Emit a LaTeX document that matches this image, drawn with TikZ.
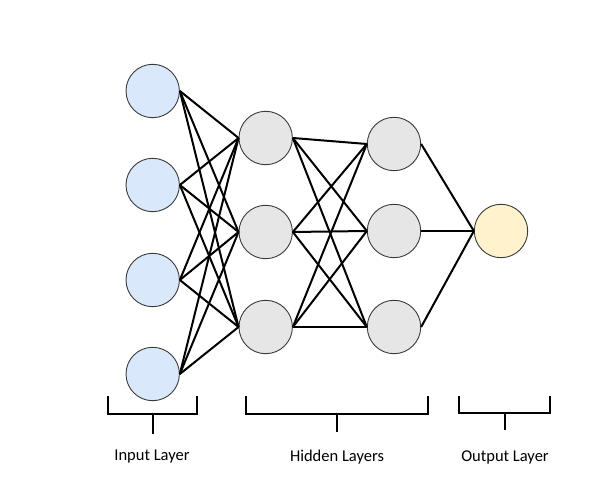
\documentclass[tikz,border=0pt]{standalone}
\usepackage{fontspec}
\setmainfont{Carlito}
\definecolor{inblue}{HTML}{DAE8FC}
\definecolor{hidgray}{HTML}{E6E6E6}
\definecolor{outyel}{HTML}{FFF2CC}
\definecolor{rim}{HTML}{3A3A3A}
\begin{document}
\begin{tikzpicture}[x=1pt,y=-1pt,
  neuron/.style={circle,draw=rim,line width=0.9pt,minimum size=53.4pt,inner sep=0pt},
  innode/.style={neuron,fill=inblue},
  hidnode/.style={neuron,fill=hidgray},
  outnode/.style={neuron,fill=outyel},
  edge/.style={line width=2pt,black},
  brace/.style={line width=1.3pt,black},
  lbl/.style={font=\fontsize{16.5}{20}\selectfont}]
\useasboundingbox (0,0) rectangle (598,489);
\node[innode] (i1) at (152.7,91) {};
\node[innode] (i2) at (152.7,185) {};
\node[innode] (i3) at (152.7,280) {};
\node[innode] (i4) at (152.7,374) {};
\node[hidnode] (a1) at (265.7,138) {};
\node[hidnode] (a2) at (265.7,232) {};
\node[hidnode] (a3) at (265.7,327) {};
\node[hidnode] (b1) at (394,144) {};
\node[hidnode] (b2) at (394,231) {};
\node[hidnode] (b3) at (394,327) {};
\node[outnode] (o) at (501,231) {};
\foreach \i in {1,2,3,4}{\foreach \j in {1,2,3}{\draw[edge] (i\i.east) -- (a\j.west);}}
\foreach \i in {1,2,3}{\foreach \j in {1,2,3}{\draw[edge] (a\i.east) -- (b\j.west);}}
\foreach \i in {1,2,3}{\draw[edge] (b\i.east) -- (o.west);}
% brackets
\coordinate (ba1) at (108,396); \coordinate (ba2) at (108,414);
\coordinate (ba3) at (197,414); \coordinate (ba4) at (197,396);
\coordinate (bas) at (153,414); \coordinate (bae) at (153,434);
\draw[brace] (ba1) -- (ba2) -- (ba3) -- (ba4);
\draw[brace] (bas) -- (bae);
\coordinate (bh1) at (246,396); \coordinate (bh2) at (246,414);
\coordinate (bh3) at (428,414); \coordinate (bh4) at (428,396);
\coordinate (bhs) at (337,414); \coordinate (bhe) at (337,432);
\draw[brace] (bh1) -- (bh2) -- (bh3) -- (bh4);
\draw[brace] (bhs) -- (bhe);
\coordinate (bo1) at (459,396); \coordinate (bo2) at (459,413);
\coordinate (bo3) at (550,413); \coordinate (bo4) at (550,396);
\coordinate (bos) at (505,413); \coordinate (boe) at (505,430);
\draw[brace] (bo1) -- (bo2) -- (bo3) -- (bo4);
\draw[brace] (bos) -- (boe);
\node[lbl] (li) at (152,457) {Input Layer};
\node[lbl] (lh) at (337,457) {Hidden Layers};
\node[lbl] (lo) at (505,457) {Output Layer};
\end{tikzpicture}
\end{document}
